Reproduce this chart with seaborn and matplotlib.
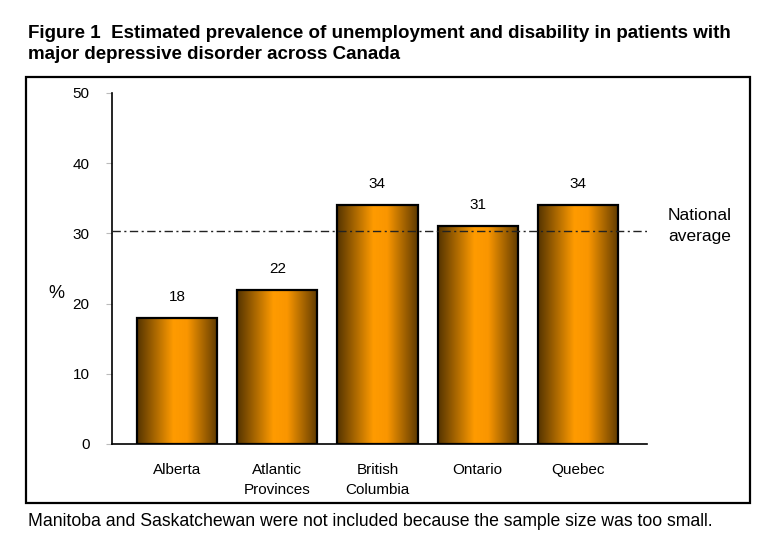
import numpy as np
import matplotlib
matplotlib.use("Agg")
import matplotlib.pyplot as plt
import seaborn as sns
from matplotlib.patches import Rectangle

# Data
provinces = ["Alberta", "Atlantic\nProvinces", "British\nColumbia", "Ontario", "Quebec"]
prevalence = [18, 22, 34, 31, 34]
national_average = 30.4
y_ticks = [0, 10, 20, 30, 40, 50]

sns.set_style("white")
plt.rcParams["font.family"] = ["Liberation Sans", "DejaVu Sans"]
plt.rcParams["text.color"] = "black"
plt.rcParams["xtick.color"] = "black"
plt.rcParams["ytick.color"] = "black"

fig = plt.figure(figsize=(7.77, 5.48), dpi=100)
ax = fig.add_axes([0.1441, 0.1898, 0.6885, 0.6405])

sns.barplot(x=provinces, y=prevalence, ax=ax, width=0.8, color="#FF9900",
            edgecolor="black", linewidth=1.6, saturation=1)

# horizontal brown-orange-brown gradient inside each bar
stops = np.array([[0.0, 85, 52, 0], [0.45, 255, 155, 0], [0.62, 250, 150, 0],
                  [1.0, 95, 58, 0]])
xs = np.linspace(0, 1, 256)
grad = np.stack([np.interp(xs, stops[:, 0], stops[:, i]) for i in (1, 2, 3)], axis=-1) / 255
grad = grad[np.newaxis, :, :]
for bar in ax.patches:
    x0, y0 = bar.get_x(), bar.get_y()
    w, h = bar.get_width(), bar.get_height()
    im = ax.imshow(grad, extent=[x0, x0 + w, y0, y0 + h], aspect="auto",
                   zorder=bar.get_zorder() - 0.1, interpolation="bilinear")
    im.set_clip_path(bar)
    bar.set_facecolor("none")

ax.bar_label(ax.containers[0], padding=10, fontsize=11, color="black")

ax.axhline(national_average, color="#222222", linewidth=1,
           linestyle=(0, (6, 2.5, 1.5, 2.5)), zorder=5)

ax.set_xlim(-0.65, 4.69)
ax.set_ylim(0, 50)
ax.set_yticks(y_ticks)
ax.tick_params(axis="y", labelsize=11, length=4, color="#bbbbbb", labelcolor="black",
               pad=12, left=True)
ax.tick_params(axis="x", labelsize=11, length=0, labelcolor="black", pad=14)
for lab in ax.get_xticklabels():
    lab.set_linespacing(1.5)
    lab.set_verticalalignment("top")

for side in ["top", "right"]:
    ax.spines[side].set_visible(False)
ax.spines["left"].set_color("black")
ax.spines["bottom"].set_color("black")
ax.spines["left"].set_linewidth(1.2)
ax.spines["bottom"].set_linewidth(1.2)
ax.set_xlabel("")
ax.set_ylabel("")

# outer frame
fig.patches.append(Rectangle((0.0335, 0.0821), 0.932, 0.777, transform=fig.transFigure,
                             fill=False, edgecolor="black", linewidth=1.6))

fig.text(48 / 777, 1 - 293 / 548, "%", fontsize=13, ha="left", va="center")
fig.text(668 / 777, 1 - 226 / 548, "National\naverage", fontsize=12.5, ha="left",
         va="center", linespacing=1.45)

fig.text(28 / 777, 1 - 44 / 548,
         "Figure 1  Estimated prevalence of unemployment and disability in patients with\n"
         "major depressive disorder across Canada",
         fontsize=13.5, fontweight="bold", ha="left", va="center", linespacing=1.35)
fig.text(28 / 777, 1 - 522 / 548,
         "Manitoba and Saskatchewan were not included because the sample size was too small.",
         fontsize=12.7, ha="left", va="center")

fig.savefig("out.png", dpi=100)
